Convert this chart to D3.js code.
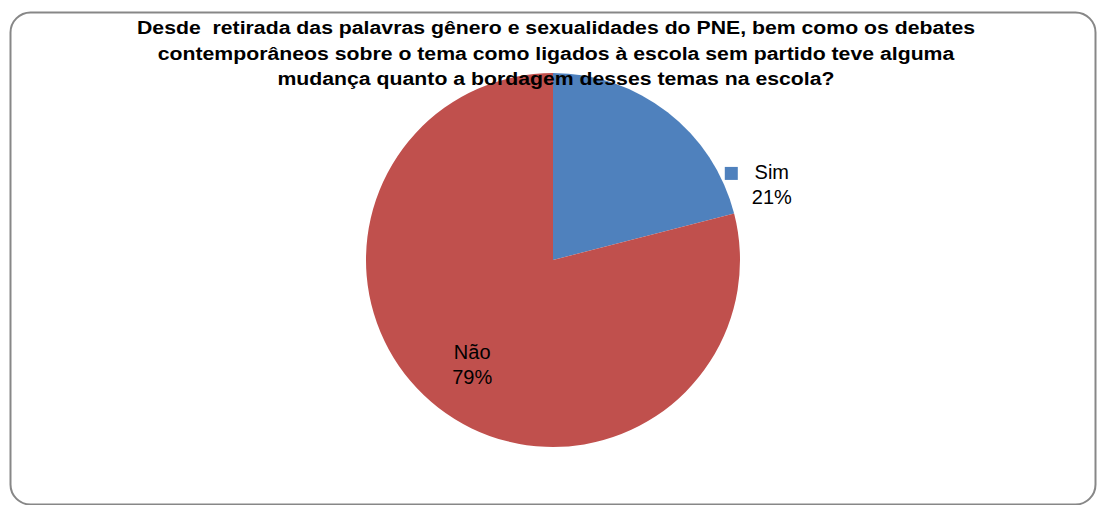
<!DOCTYPE html>
<html>
<head>
<meta charset="utf-8">
<script src="https://cdn.jsdelivr.net/npm/d3@7"></script>
<style>
  body { margin: 0; background: #fff; }
  svg { display: block; font-family: "Liberation Sans", Arial, sans-serif; }
  .title { white-space: pre; }
</style>
</head>
<body>
<div class="pie"></div>
<script>
// data
const categories = ['Sim', 'Não']
const values = [21, 79]
const colors = ['#4F81BD', '#C0504D']
const titleLines = [
  'Desde  retirada das palavras gênero e sexualidades do PNE, bem como os debates',
  'contemporâneos sobre o tema como ligados à escola sem partido teve alguma',
  'mudança quanto a bordagem desses temas na escola?'
]

const width = 1099
const height = 505

const svg = d3.select('.pie')
  .append('svg')
  .attr('width', width)
  .attr('height', height)

// chart frame
svg.append('rect')
  .attr('x', 10.5)
  .attr('y', 12.5)
  .attr('width', 1085)
  .attr('height', 492)
  .attr('rx', 20)
  .attr('fill', '#fff')
  .attr('stroke', '#878787')
  .attr('stroke-width', 2)

const cx = 553
const cy = 260
const radius = 187

const pie = d3.pie().sort(null).value(d => d)
const arcs = pie(values)

const arc = d3.arc().innerRadius(0).outerRadius(radius)
const labelArc = d3.arc().innerRadius(radius * 0.705).outerRadius(radius * 0.705)

const g = svg.append('g')
  .attr('transform', `translate(${cx},${cy})`)

g.selectAll('path')
  .data(arcs)
  .enter()
  .append('path')
  .attr('d', arc)
  .attr('fill', (d, i) => colors[i])

// labels
const fmt = v => `${v}%`

// Sim sits outside the pie with a legend key
const simX = radius * 1.17
const simY = -radius * 0.455
g.append('rect')
  .attr('x', simX - 47)
  .attr('y', simY - 8)
  .attr('width', 13)
  .attr('height', 13)
  .attr('fill', colors[0])
const simText = g.append('text')
  .attr('text-anchor', 'middle')
  .attr('font-size', 20)
  .attr('fill', '#000')
simText.append('tspan').attr('x', simX).attr('y', simY + 4).text(categories[0])
simText.append('tspan').attr('x', simX).attr('y', simY + 29).text(fmt(values[0]))

// Não inside its slice
const [nx, ny] = labelArc.centroid(arcs[1])
const naoText = g.append('text')
  .attr('text-anchor', 'middle')
  .attr('font-size', 20)
  .attr('fill', '#000')
naoText.append('tspan').attr('x', nx).attr('y', ny - 5).text(categories[1])
naoText.append('tspan').attr('x', nx).attr('y', ny + 20).text(fmt(values[1]))

// title, stretched to the width of the original first line
const titles = svg.append('g')
  .selectAll('text')
  .data(titleLines)
  .enter()
  .append('text')
  .attr('class', 'title')
  .attr('x', cx + 3)
  .attr('y', (d, i) => 34 + i * 25.5)
  .attr('text-anchor', 'middle')
  .attr('font-size', 18)
  .attr('font-weight', 'bold')
  .attr('fill', '#000')
  .text(d => d)

const stretch = 838 / titles.nodes()[0].getComputedTextLength()
titles.each(function() {
  const len = this.getComputedTextLength()
  d3.select(this)
    .attr('textLength', len * stretch)
    .attr('lengthAdjust', 'spacingAndGlyphs')
})
</script>
</body>
</html>
